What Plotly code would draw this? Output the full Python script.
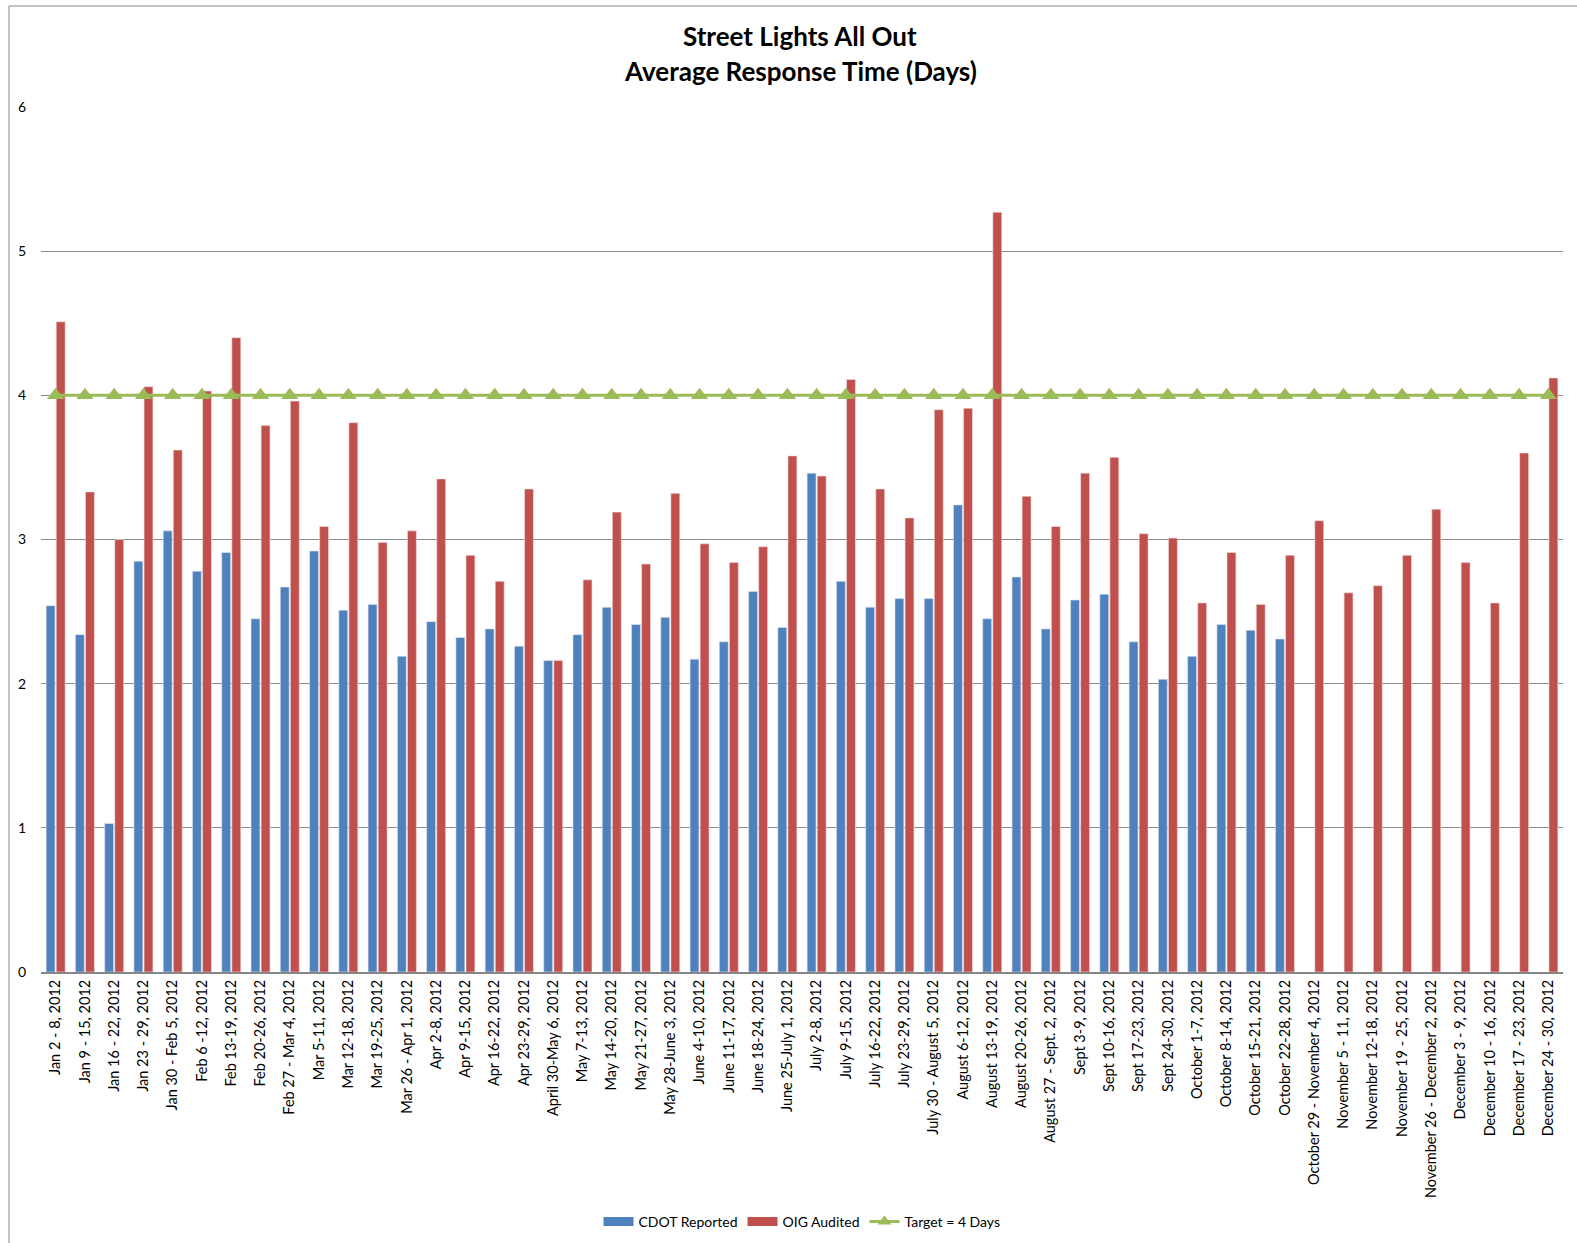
import plotly.graph_objects as go

# Weekly reporting periods (2012)
weeks = [
    "Jan 2 - 8, 2012", "Jan 9 - 15, 2012", "Jan 16 - 22, 2012", "Jan 23 - 29, 2012",
    "Jan 30 - Feb 5, 2012", "Feb 6 -12, 2012", "Feb 13-19, 2012", "Feb 20-26, 2012",
    "Feb 27 - Mar 4, 2012", "Mar 5-11, 2012", "Mar 12-18, 2012", "Mar 19-25, 2012",
    "Mar 26 - Apr 1, 2012", "Apr 2-8, 2012", "Apr 9-15, 2012", "Apr 16-22, 2012",
    "Apr 23-29, 2012", "April 30-May 6, 2012", "May 7-13, 2012", "May 14-20, 2012",
    "May 21-27, 2012", "May 28-June 3, 2012", "June 4-10, 2012", "June 11-17, 2012",
    "June 18-24, 2012", "June 25-July 1, 2012", "July 2-8, 2012", "July 9-15, 2012",
    "July 16-22, 2012", "July 23-29, 2012", "July 30 - August 5, 2012", "August 6-12, 2012",
    "August 13-19, 2012", "August 20-26, 2012", "August 27 - Sept. 2, 2012", "Sept 3-9, 2012",
    "Sept 10-16, 2012", "Sept 17-23, 2012", "Sept 24-30, 2012", "October 1-7, 2012",
    "October 8-14, 2012", "October 15-21, 2012", "October 22-28, 2012",
    "October 29 - November 4, 2012", "November 5 - 11, 2012", "November 12-18, 2012",
    "November 19 - 25, 2012", "November 26 - December 2, 2012", "December 3 - 9, 2012",
    "December 10 - 16, 2012", "December 17 - 23, 2012", "December 24 - 30, 2012",
]

# Average response time in days
cdot_reported = [
    2.54, 2.34, 1.03, 2.85, 3.06, 2.78, 2.91, 2.45, 2.67, 2.92, 2.51, 2.55, 2.19,
    2.43, 2.32, 2.38, 2.26, 2.16, 2.34, 2.53, 2.41, 2.46, 2.17, 2.29, 2.64, 2.39,
    3.46, 2.71, 2.53, 2.59, 2.59, 3.24, 2.45, 2.74, 2.38, 2.58, 2.62, 2.29, 2.03,
    2.19, 2.41, 2.37, 2.31, None, None, None, None, None, None, None, None, None,
]
oig_audited = [
    4.51, 3.33, 3.00, 4.06, 3.62, 4.03, 4.40, 3.79, 3.96, 3.09, 3.81, 2.98, 3.06,
    3.42, 2.89, 2.71, 3.35, 2.16, 2.72, 3.19, 2.83, 3.32, 2.97, 2.84, 2.95, 3.58,
    3.44, 4.11, 3.35, 3.15, 3.90, 3.91, 5.27, 3.30, 3.09, 3.46, 3.57, 3.04, 3.01,
    2.56, 2.91, 2.55, 2.89, 3.13, 2.63, 2.68, 2.89, 3.21, 2.84, 2.56, 3.60, 4.12,
]
target_days = [4] * len(weeks)

BLUE, RED, GREEN = "#4F81BD", "#C0504D", "#9BBB59"

W, H = 1577, 1243
M_L, M_R, M_T, M_B = 41, 14, 107, 271

FONT = "Lato, 'Open Sans', sans-serif"

fig = go.Figure()
fig.add_trace(go.Bar(
    x=weeks, y=cdot_reported, name="CDOT Reported", showlegend=False,
    marker=dict(color=BLUE, line=dict(color="#DCE6F2", width=0.6)),
))
fig.add_trace(go.Bar(
    x=weeks, y=oig_audited, name="OIG Audited", showlegend=False,
    marker=dict(color=RED, line=dict(color="#F2DCDB", width=0.6)),
))
fig.add_trace(go.Scatter(
    x=weeks, y=target_days, name="Target = 4 Days", mode="lines+markers",
    line=dict(color=GREEN, width=3), showlegend=False,
    marker=dict(symbol="triangle-up", size=15, color=GREEN),
))

# Legend entries drawn as wide swatches
fig.add_trace(go.Scatter(
    x=[None], y=[None], name="CDOT Reported", mode="lines",
    line=dict(color=BLUE, width=9),
))
fig.add_trace(go.Scatter(
    x=[None], y=[None], name="OIG Audited", mode="lines",
    line=dict(color=RED, width=9),
))
fig.add_trace(go.Scatter(
    x=[None], y=[None], name="Target = 4 Days", mode="lines+markers",
    line=dict(color=GREEN, width=3),
    marker=dict(symbol="triangle-up", size=12, color=GREEN),
))

plot_h = H - M_T - M_B
plot_w = W - M_L - M_R

fig.update_layout(
    width=W, height=H,
    margin=dict(l=M_L, r=M_R, t=M_T, b=M_B, pad=0),
    paper_bgcolor="white", plot_bgcolor="white",
    font=dict(family=FONT, size=14, color="#000000"),
    barmode="group", bargap=0.31, bargroupgap=0.12,
    showlegend=True,
    legend=dict(
        orientation="h", x=0.5, xanchor="center",
        yref="container", y=1 - 1222 / H, yanchor="middle",
        font=dict(size=14), traceorder="normal", itemclick=False,
    ),
    xaxis=dict(
        type="category", range=[-0.5, len(weeks) - 0.5], tickangle=-90,
        showgrid=False, showline=True, linecolor="#868686", linewidth=2,
        ticks="", tickfont=dict(size=14.5), automargin=False,
    ),
    yaxis=dict(
        range=[0, 6], dtick=1, showgrid=True, gridcolor="#8C8C8C", gridwidth=1,
        zeroline=False, showline=False, ticks="", tickfont=dict(size=14),
        ticklabelstandoff=14, automargin=False,
    ),
    annotations=[
        dict(text="<b>Street Lights All Out</b>", xref="paper", yref="paper",
             x=(800 - M_L) / plot_w, y=(H - M_B - 36) / plot_h,
             showarrow=False, font=dict(size=26), xanchor="center", yanchor="middle"),
        dict(text="<b>Average Response Time (Days)</b>", xref="paper", yref="paper",
             x=(800 - M_L) / plot_w, y=(H - M_B - 71) / plot_h,
             showarrow=False, font=dict(size=26), xanchor="center", yanchor="middle"),
    ],
    shapes=[
        # chart frame: left and top edges
        dict(type="line", xref="paper", yref="paper",
             x0=(9 - M_L) / plot_w, x1=(9 - M_L) / plot_w,
             y0=(H - M_B - 6) / plot_h, y1=(H - M_B - 1243) / plot_h,
             line=dict(color="#868686", width=1)),
        dict(type="line", xref="paper", yref="paper",
             x0=(9 - M_L) / plot_w, x1=(1577 - M_L) / plot_w,
             y0=(H - M_B - 6) / plot_h, y1=(H - M_B - 6) / plot_h,
             line=dict(color="#868686", width=1)),
    ],
)

fig.write_html("out.html")
